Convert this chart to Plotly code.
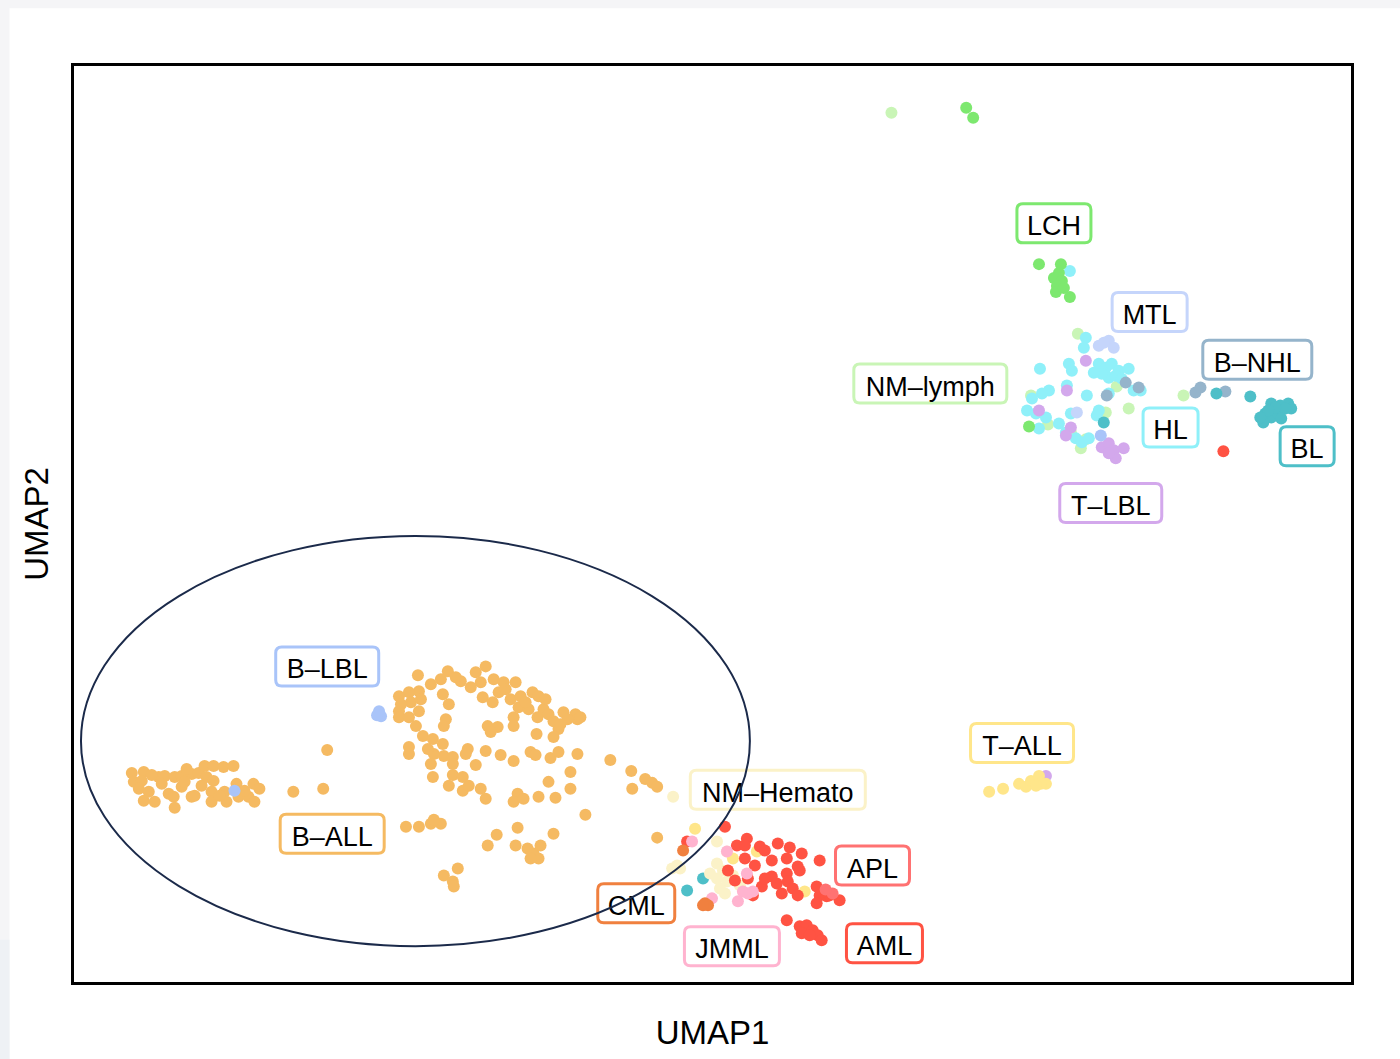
import plotly.graph_objects as go

# ---- UMAP embedding coordinates per diagnosis group ----
B_ALL_X = [1.16, 1.40, 1.20, 1.36, 1.30, 1.50, 1.40, 1.62, 1.70, 1.82, 2.02, 2.16, 2.36, 2.50, 2.62, 2.80,
           3.00, 3.20, 2.66, 2.80, 2.56, 2.16, 1.90, 2.00, 2.02, 2.36, 2.42, 2.76, 2.76, 3.02, 3.06, 3.26,
           3.30, 3.50, 3.60, 3.72, 3.62, 1.76, 2.22, 3.42, 2.92, 1.56, 2.26,
           5.08, 4.40, 5.00,
           6.90, 7.50, 7.36, 7.16, 6.92, 6.72, 6.52, 6.76, 6.52, 6.52, 6.72, 6.92, 7.40, 7.52, 7.46, 7.42,
           6.86, 7.00, 7.20, 7.40, 6.72, 6.72, 7.22, 7.16, 7.42, 7.60, 7.60, 7.90, 7.86, 8.06, 8.26, 8.56,
           8.82, 7.20, 7.60, 7.80, 7.52, 7.80, 7.92, 8.16, 8.26, 7.76, 8.06, 8.26, 8.16, 7.96, 8.42, 8.62,
           8.86, 8.20, 8.40, 8.52, 8.76, 8.96, 9.20, 9.32, 8.92, 9.12, 8.82, 8.82, 9.30, 9.42, 9.52, 9.62,
           9.82, 10.06, 10.10, 9.90, 9.72, 9.62, 9.28, 8.30, 8.50, 8.36, 9.16, 9.26, 9.56, 9.72, 10.10, 10.76,
           9.96, 9.52, 9.96, 8.90, 8.82, 9.02, 9.32, 9.66, 10.26, 6.66, 6.92, 7.16, 7.36, 7.22, 8.90, 8.48,
           9.62, 8.30, 8.86, 9.10, 9.22, 9.32, 9.36, 9.16, 7.42, 7.60, 7.70, 7.62,
           11.18, 11.20, 11.46, 11.60, 11.70, 11.70,
           7.66, 8.66, 9.06, 6.96, 6.56, 9.46, 9.76, 7.10, 10.16]
B_ALL_Y = [4.20, 4.22, 4.02, 4.04, 3.88, 3.82, 3.64, 3.62, 4.12, 4.14, 4.12, 4.14, 4.18, 4.20, 4.34, 4.34,
           4.32, 4.34, 4.12, 4.04, 3.94, 3.92, 3.78, 3.72, 3.50, 3.72, 3.74, 3.82, 3.62, 3.82, 3.62, 3.98,
           3.72, 3.72, 3.98, 3.88, 3.62, 3.98, 4.02, 3.84, 3.74, 4.16, 4.28,
           4.66, 3.82, 3.88,
           6.16, 6.24, 6.08, 5.98, 5.84, 5.82, 5.74, 5.62, 5.44, 5.32, 5.32, 5.44, 5.78, 5.58, 5.28, 5.14,
           5.14, 4.94, 4.88, 4.78, 4.72, 4.58, 4.58, 4.38, 4.54, 4.52, 4.38, 4.68, 4.58, 4.36, 4.64, 4.56,
           4.44, 4.12, 4.16, 4.12, 3.94, 3.84, 3.94, 3.88, 3.68, 6.04, 6.22, 6.34, 6.02, 5.92, 6.08, 6.02,
           6.02, 5.72, 5.62, 5.82, 5.68, 5.74, 5.82, 5.74, 5.52, 5.48, 5.32, 5.14, 5.32, 5.48, 5.38, 5.24,
           5.42, 5.38, 5.28, 5.28, 5.08, 4.92, 4.98, 5.14, 5.12, 5.02, 4.62, 4.56, 4.50, 4.62, 4.58, 4.46,
           4.22, 4.02, 3.88, 3.78, 3.62, 3.68, 3.72, 3.70, 3.36, 3.12, 3.12, 3.18, 3.18, 3.26, 3.10, 2.96,
           2.98, 2.74, 2.74, 2.68, 2.58, 2.48, 2.74, 2.48, 2.14, 2.02, 2.28, 1.92,
           4.24, 3.88, 4.08, 4.00, 3.92, 2.90,
           6.12, 5.88, 5.62, 5.68, 5.58, 5.68, 5.18, 4.68, 5.32]

B_LBL_X = [6.12, 6.16, 6.08, 3.22, 20.60]
B_LBL_Y = [5.44, 5.34, 5.36, 3.84, 10.98]

LCH_X = [17.90, 18.04, 19.36, 19.80, 19.76, 19.66, 19.82, 19.72, 19.70, 19.86, 19.98, 19.16]
LCH_Y = [17.56, 17.36, 14.42, 14.42, 14.24, 14.14, 14.08, 13.98, 13.86, 13.94, 13.76, 11.16]

NM_LYMPH_X = [16.40, 20.14, 20.92, 21.16, 19.20, 19.54, 20.70, 20.30, 20.20, 22.26, 20.00]
NM_LYMPH_Y = [17.46, 13.02, 11.96, 11.52, 11.78, 11.20, 11.44, 10.90, 10.72, 11.78, 11.04]

HL_X = [19.98, 20.30, 20.26, 19.38, 19.96, 20.02, 20.56, 20.70, 20.82, 20.96, 20.76, 20.62, 21.16, 21.26,
        21.40, 19.92, 20.32, 20.76, 19.56, 19.42, 19.22, 19.12, 19.30, 19.50, 19.36, 19.76, 20.00, 20.56,
        20.52, 20.10, 20.22, 20.36, 19.90, 20.90, 21.02, 20.46]
HL_Y = [14.28, 12.94, 12.74, 12.32, 12.42, 12.28, 12.42, 12.34, 12.42, 12.28, 12.14, 12.22, 12.32, 11.88,
        11.88, 11.98, 11.78, 11.82, 11.88, 11.82, 11.72, 11.48, 11.42, 11.34, 11.12, 11.22, 11.42, 11.48,
        11.38, 10.92, 10.84, 10.92, 11.04, 12.18, 12.12, 12.24]

T_LBL_X = [20.30, 19.92, 19.36, 20.00, 19.90, 20.62, 20.76, 20.86, 21.06, 20.90, 20.76, 19.50]
T_LBL_Y = [12.48, 11.88, 11.48, 11.14, 10.98, 10.74, 10.82, 10.68, 10.72, 10.52, 10.62, 4.14]

MTL_X = [20.56, 20.76, 20.86, 20.66, 20.12]
MTL_Y = [12.78, 12.88, 12.74, 12.84, 11.44]

B_NHL_X = [21.10, 20.72, 21.36, 22.50, 22.60, 23.10]
B_NHL_Y = [12.04, 11.78, 11.94, 11.84, 11.94, 11.86]

BL_X = [20.66, 22.92, 23.60, 24.02, 24.20, 24.36, 24.42, 23.90, 24.02, 23.86, 24.16, 24.30, 24.22, 24.10,
        23.96, 23.80, 12.62, 12.30]
BL_Y = [11.24, 11.82, 11.76, 11.62, 11.58, 11.62, 11.52, 11.42, 11.34, 11.24, 11.42, 11.52, 11.32, 11.54,
        11.48, 11.34, 2.08, 1.84]

T_ALL_X = [18.36, 18.64, 18.96, 19.10, 19.20, 19.36, 19.50, 19.40, 19.30, 12.46, 13.22, 13.70, 14.66]
T_ALL_Y = [3.82, 3.88, 3.98, 3.92, 4.04, 4.14, 3.98, 3.98, 3.94, 3.08, 2.48, 2.62, 1.82]

NM_HEMATO_X = [12.02, 12.90, 13.10, 12.90, 13.02, 12.90, 13.10, 12.96, 13.22, 12.10, 12.00, 12.16, 13.60,
               13.36, 12.76, 13.06]
NM_HEMATO_Y = [3.72, 2.82, 2.62, 2.38, 2.24, 2.08, 2.02, 1.88, 2.14, 2.34, 2.28, 2.28, 1.78,
               1.94, 2.18, 1.78]

AML_X = [23.06, 13.06, 13.30, 13.50, 13.46, 13.76, 13.86, 14.12, 14.36, 14.60, 14.96, 13.46, 13.66, 14.00,
         14.30, 14.52, 14.56, 14.00, 14.10, 14.30, 14.32, 13.80, 14.20, 14.42, 14.52, 14.90, 14.96, 15.10,
         15.36, 14.90, 15.16, 13.26, 13.62, 14.30, 14.56, 14.70, 14.82, 14.92, 15.00, 14.60, 14.76, 13.12,
         12.30, 13.52, 13.86]
AML_Y = [10.66, 3.12, 2.74, 2.88, 2.74, 2.72, 2.64, 2.78, 2.70, 2.58, 2.44, 2.48, 2.34, 2.44,
         2.48, 2.32, 2.24, 2.12, 1.98, 2.18, 2.02, 1.92, 1.78, 1.88, 1.74, 1.92, 1.74, 1.72,
         1.64, 1.58, 1.74, 2.04, 1.74, 1.24, 1.12, 1.14, 1.04, 0.94, 0.84, 0.98, 0.94, 2.24,
         2.82, 2.08, 2.08]

APL_X = [15.22, 15.08]
APL_Y = [1.78, 1.86]

JMML_X = [12.40, 13.10, 13.50, 13.52, 13.32, 12.80, 13.42, 13.62]
JMML_Y = [2.82, 2.62, 2.18, 1.78, 1.62, 1.68, 1.82, 1.82]

CML_X = [12.22, 12.66, 12.72, 12.62]
CML_Y = [2.64, 1.58, 1.54, 1.54]

# Group colours
COLORS = {
    "B-ALL": "#F5BA62", "B-LBL": "#A9C4F9", "LCH": "#7DE86F", "NM-lymph": "#C9F5B6",
    "MTL": "#C5D5FB", "B-NHL": "#95B4CB", "HL": "#8FF0F9", "BL": "#4EBFC8",
    "T-LBL": "#D3A8EC", "T-ALL": "#FFE68A", "NM-Hemato": "#FBF2C8", "APL": "#FF7272",
    "AML": "#FF5343", "CML": "#F0803F", "JMML": "#FFB3CF",
}

# Draw order (first = bottom)
GROUPS = [
    ("B-ALL", B_ALL_X, B_ALL_Y), ("NM-lymph", NM_LYMPH_X, NM_LYMPH_Y), ("HL", HL_X, HL_Y),
    ("MTL", MTL_X, MTL_Y), ("T-LBL", T_LBL_X, T_LBL_Y), ("B-NHL", B_NHL_X, B_NHL_Y),
    ("BL", BL_X, BL_Y), ("LCH", LCH_X, LCH_Y), ("B-LBL", B_LBL_X, B_LBL_Y),
    ("NM-Hemato", NM_HEMATO_X, NM_HEMATO_Y), ("T-ALL", T_ALL_X, T_ALL_Y), ("AML", AML_X, AML_Y),
    ("APL", APL_X, APL_Y), ("JMML", JMML_X, JMML_Y), ("CML", CML_X, CML_Y),
]

# Group label positions in UMAP space
LABEL_TEXT = ["LCH", "MTL", "B–NHL", "NM–lymph", "HL", "BL", "T–LBL", "B–LBL", "T–ALL",
              "NM–Hemato", "B–ALL", "APL", "CML", "JMML", "AML"]
LABEL_GROUP = ["LCH", "MTL", "B-NHL", "NM-lymph", "HL", "BL", "T-LBL", "B-LBL", "T-ALL",
               "NM-Hemato", "B-ALL", "APL", "CML", "JMML", "AML"]
LABEL_X = [19.66, 21.58, 23.74, 17.18, 22.00, 24.74, 20.80, 5.08, 19.02, 14.12, 5.18, 16.02, 11.28, 13.20, 16.26]
LABEL_Y = [15.24, 13.46, 12.50, 12.02, 11.14, 10.76, 9.62, 6.34, 4.80, 3.86, 2.98, 2.34, 1.58, 0.72, 0.78]
# Label box widths (px)
LABEL_W = [74, 75, 109, 153, 55, 54, 102, 103, 103, 175, 104, 74, 77, 95, 76]
LABEL_H = 39
LABEL_R = 6

# B-lineage ellipse (centre and semi-axes in UMAP units)
ELLIPSE_CX, ELLIPSE_CY = 6.85, 4.84
ELLIPSE_RX, ELLIPSE_RY = 6.71, 4.12

X_RANGE = [0, 25.62]
Y_RANGE = [0, 18.4]

FONT = "Liberation Sans, Arial, Helvetica, sans-serif"


def rounded_box(w, h, r):
    """SVG path of a rounded rectangle centred on (0, 0), in pixels."""
    a, b = w / 2, h / 2
    return (f"M {-a + r},{-b} L {a - r},{-b} Q {a},{-b} {a},{-b + r} "
            f"L {a},{b - r} Q {a},{b} {a - r},{b} L {-a + r},{b} Q {-a},{b} {-a},{b - r} "
            f"L {-a},{-b + r} Q {-a},{-b} {-a + r},{-b} Z")


fig = go.Figure()
for name, xs, ys in GROUPS:
    fig.add_trace(go.Scatter(
        x=xs, y=ys, mode="markers", name=name, showlegend=False,
        marker=dict(size=12, color=COLORS[name], line=dict(width=0)),
        hoverinfo="name",
    ))

# Group labels: rounded boxes with coloured borders
for txt, grp, lx, ly, w in zip(LABEL_TEXT, LABEL_GROUP, LABEL_X, LABEL_Y, LABEL_W):
    fig.add_shape(
        type="path", xref="x", yref="y", xsizemode="pixel", ysizemode="pixel",
        xanchor=lx, yanchor=ly, path=rounded_box(w, LABEL_H, LABEL_R),
        fillcolor="white", line=dict(color=COLORS[grp], width=3), layer="above",
        label=dict(text=txt, font=dict(family=FONT, size=27, color="black"),
                   textposition="middle center"),
    )

# Ellipse drawn on top of everything
fig.add_shape(
    type="circle", xref="x", yref="y",
    x0=ELLIPSE_CX - ELLIPSE_RX, x1=ELLIPSE_CX + ELLIPSE_RX,
    y0=ELLIPSE_CY - ELLIPSE_RY, y1=ELLIPSE_CY + ELLIPSE_RY,
    line=dict(color="#1B2A4A", width=2), layer="above",
)

# Page background: light grey margin strip with a white canvas
fig.add_shape(type="rect", xref="paper", yref="paper", x0=-0.0505, x1=1.04, y0=-0.09, y1=1.0630,
              fillcolor="white", line=dict(width=0), layer="below")
fig.add_shape(type="rect", xref="paper", yref="paper", x0=-0.06, x1=-0.0505, y0=-0.09, y1=0.0460,
              fillcolor="#EEF1F5", line=dict(width=0), layer="below")

axis_common = dict(showgrid=False, zeroline=False, showticklabels=False, ticks="",
                   showline=True, mirror=True, linecolor="black", linewidth=3)

fig.update_layout(
    width=1400, height=1059,
    margin=dict(l=74, r=49, t=66, b=77),
    paper_bgcolor="#F5F5F7", plot_bgcolor="white",
    font=dict(family=FONT, color="black"),
    xaxis=dict(range=X_RANGE, title=dict(text="UMAP1", font=dict(size=33), standoff=37), **axis_common),
    yaxis=dict(range=Y_RANGE, title=dict(text="UMAP2", font=dict(size=33), standoff=13), **axis_common),
)
fig.update_xaxes(automargin=False)
fig.update_yaxes(automargin=False)

fig.write_html("out.html")
